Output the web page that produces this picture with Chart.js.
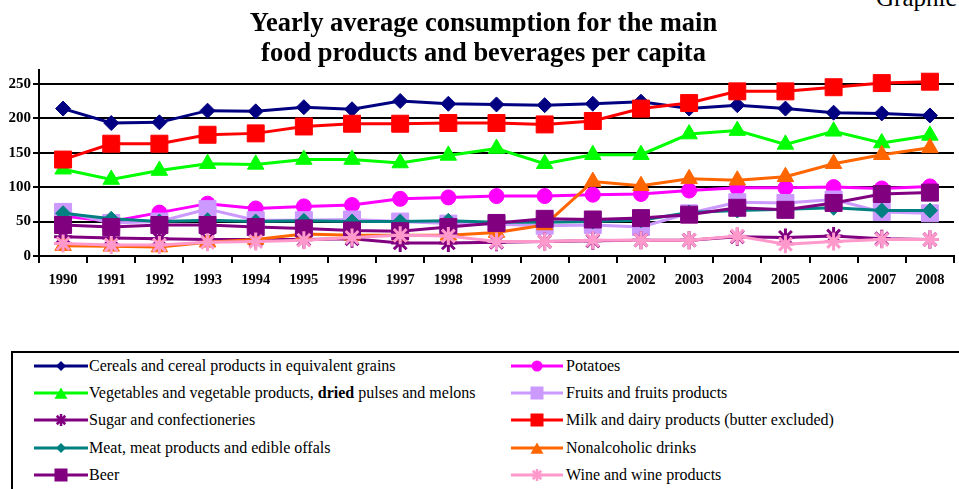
<!DOCTYPE html>
<html>
<head>
<meta charset="utf-8">
<title>Yearly average consumption per capita</title>
<script src="https://cdn.jsdelivr.net/npm/chart.js@4/dist/chart.umd.min.js"></script>
<style>
   html, body { margin: 0; padding: 0; background: #fff; }
   body {
      width: 959px;
      height: 489px;
      overflow: hidden;
      position: relative;
      font-family: "Liberation Serif", "Times New Roman", serif;
      color: #000;
   }
   #chartBox { position: absolute; left: 0; top: 0; width: 967px; height: 296px; }
   #pageTag { position: absolute; left: 876px; top: -15px; font-size: 25px; line-height: 1; white-space: nowrap; }
   #legend {
      position: absolute;
      left: 11px;
      top: 351px;
      width: 1000px;
      height: 200px;
      border-left: 2px solid #000;
      border-top: 2px solid #000;
   }
   .legend-item { position: absolute; height: 20px; line-height: 20px; font-size: 16px; white-space: nowrap; }
   .legend-item canvas { position: absolute; left: 0; top: 0; }
   .legend-item span { position: absolute; left: 55px; top: 0; }
</style>
</head>
<body>
<div id="pageTag">Graphic</div>
<div id="chartBox"><canvas id="consumptionChart" width="967" height="296"></canvas></div>
<div id="legend"></div>

<script>
const years = ["1990", "1991", "1992", "1993", "1994", "1995", "1996", "1997", "1998", "1999",
   "2000", "2001", "2002", "2003", "2004", "2005", "2006", "2007", "2008"];
const yTicks = [0, 50, 100, 150, 200, 250];
const titleLines = ["Yearly average consumption for the main", "food products and beverages per capita"];

const seriesNames = [
   "Cereals and cereal products in equivalent grains",
   "Potatoes",
   "Vegetables and vegetable products, <b>dried</b> pulses and melons",
   "Fruits and fruits products",
   "Sugar and confectioneries",
   "Milk and dairy products (butter excluded)",
   "Meat, meat products and edible offals",
   "Nonalcoholic drinks",
   "Beer",
   "Wine and wine products"
];

const cereals      = [214, 193, 194, 211, 210, 216, 213, 225, 221, 220, 219, 221, 224, 214, 219, 214, 208, 207, 204];
const potatoes     = [58, 50, 63, 76, 69, 72, 74, 83, 85, 87, 87, 89, 90, 95, 99, 99, 100, 98, 101];
const vegetables   = [126, 111, 124, 134, 133, 140, 140, 135, 146, 156, 134, 147, 147, 177, 182, 162, 181, 164, 175];
const fruits       = [64, 48, 50, 68, 52, 52, 53, 50, 47, 46, 44, 45, 42, 62, 78, 77, 82, 64, 62];
const sugar        = [28, 26, 25, 24, 24, 24, 25, 19, 19, 20, 21, 22, 23, 23, 28, 27, 29, 25, 24];
const milk         = [140, 163, 163, 176, 178, 188, 192, 192, 193, 193, 191, 196, 214, 222, 239, 239, 245, 251, 253];
const meat         = [62, 54, 50, 52, 50, 51, 50, 50, 51, 49, 49, 50, 52, 63, 66, 68, 70, 66, 66];
const nonalcoholic = [15, 14, 13, 20, 24, 32, 30, 30, 30, 34, 45, 108, 102, 112, 110, 115, 134, 147, 157];
const beer         = [45, 42, 45, 45, 42, 40, 37, 36, 42, 48, 54, 53, 55, 60, 70, 67, 77, 90, 92];
const wine         = [18, 16, 16, 20, 21, 23, 27, 30, 29, 21, 21, 23, 23, 23, 29, 17, 21, 24, 24];

const seriesValues = [cereals, potatoes, vegetables, fruits, sugar, milk, meat, nonalcoholic, beer, wine];

// marker look per series (same order as seriesNames)
const seriesStyles = [
   { color: "#000080", marker: "rectRot", radius: 7.5, legendSize: 5 },
   { color: "#FF00FF", marker: "circle", radius: 7.5, legendSize: 5.5 },
   { color: "#00FF00", marker: "triangle", radius: 9.5, legendSize: 7.5 },
   { color: "#CC99FF", marker: "rect", radius: 12, legendSize: 6.5 },
   { color: "#800080", marker: "star", radius: 9, legendSize: 6 },
   { color: "#FF0000", marker: "rect", radius: 12, legendSize: 6.5 },
   { color: "#008080", marker: "rectRot", radius: 7.5, legendSize: 5 },
   { color: "#FF6600", marker: "triangle", radius: 9.5, legendSize: 7.5 },
   { color: "#800080", marker: "rect", radius: 12, legendSize: 6.5 },
   { color: "#FF99CC", marker: "star", radius: 9, legendSize: 6 }
];

const FONT_FAMILY = '"Liberation Serif", "Times New Roman", serif';

document.addEventListener("DOMContentLoaded", () => {
   renderChart();
   renderLegend();
});

function renderChart() {
   const canvas = document.getElementById("consumptionChart");
   if (!canvas || typeof Chart === "undefined") return;

   const datasets = seriesValues.map((values, i) => {
      const style = seriesStyles[i];
      const isStar = style.marker === "star";
      return {
         label: seriesNames[i].replace(/<[^>]+>/g, ""),
         data: values,
         borderColor: style.color,
         backgroundColor: style.color,
         borderWidth: 3,
         tension: 0,
         pointStyle: style.marker,
         pointRadius: style.radius,
         pointHoverRadius: style.radius,
         pointBackgroundColor: style.color,
         pointBorderColor: style.color,
         pointBorderWidth: isStar ? 3 : 1,
         order: seriesValues.length - i
      };
   });

   new Chart(canvas, {
      type: "line",
      data: {
         labels: years,
         datasets
      },
      options: {
         responsive: false,
         animation: false,
         layout: { padding: 0 },
         plugins: {
            legend: { display: false },
            tooltip: { enabled: false },
            title: {
               display: true,
               text: titleLines,
               color: "#000",
               font: { family: FONT_FAMILY, size: 26.5, weight: "bold", lineHeight: "30px" },
               padding: { top: 9, bottom: 1 }
            }
         },
         scales: {
            x: {
               type: "category",
               offset: true,
               grid: {
                  offset: true,
                  drawOnChartArea: false,
                  drawTicks: true,
                  tickLength: 7,
                  color: "#000",
                  lineWidth: 2
               },
               border: { display: true, color: "#000", width: 2 },
               ticks: {
                  color: "#000",
                  autoSkip: false,
                  maxRotation: 0,
                  padding: 9,
                  font: { family: FONT_FAMILY, size: 14.5, weight: "bold" }
               },
               afterFit(scale) {
                  scale.height = 40;
               }
            },
            y: {
               min: 0,
               max: 270,
               afterBuildTicks(scale) {
                  scale.ticks = yTicks.map((value) => ({ value }));
               },
               grid: {
                  color: "#000",
                  lineWidth: 2,
                  drawTicks: true,
                  tickLength: 6
               },
               border: { display: true, color: "#000", width: 2 },
               ticks: {
                  color: "#000",
                  padding: 2,
                  font: { family: FONT_FAMILY, size: 15, weight: "bold" }
               },
               afterFit(scale) {
                  scale.width = 39;
               }
            }
         }
      }
   });
}

function renderLegend() {
   const legend = document.getElementById("legend");
   if (!legend) return;

   const columns = [
      { left: 21, sampleWidth: 54 },
      { left: 498, sampleWidth: 52 }
   ];
   const firstRowLine = 13.2;
   const rowStep = 27.1;

   seriesNames.forEach((name, i) => {
      const column = columns[i % 2];
      const row = Math.floor(i / 2);
      const style = seriesStyles[i];

      const item = document.createElement("div");
      item.className = "legend-item";
      item.style.left = column.left + "px";
      item.style.top = (firstRowLine + row * rowStep - 10) + "px";

      const sample = document.createElement("canvas");
      sample.width = column.sampleWidth;
      sample.height = 20;
      drawLegendSample(sample, style);

      const text = document.createElement("span");
      text.innerHTML = name;

      item.appendChild(sample);
      item.appendChild(text);
      legend.appendChild(item);
   });
}

function drawLegendSample(canvas, style) {
   const ctx = canvas.getContext("2d");
   const midX = canvas.width / 2;
   const midY = 10;
   const s = style.legendSize;

   ctx.strokeStyle = style.color;
   ctx.fillStyle = style.color;
   ctx.lineWidth = 3;
   ctx.beginPath();
   ctx.moveTo(0, midY);
   ctx.lineTo(canvas.width, midY);
   ctx.stroke();

   ctx.beginPath();
   switch (style.marker) {
      case "circle":
         ctx.arc(midX, midY, s, 0, Math.PI * 2);
         ctx.fill();
         break;
      case "rect":
         ctx.fillRect(midX - s, midY - s, s * 2, s * 2);
         break;
      case "rectRot":
         ctx.moveTo(midX, midY - s);
         ctx.lineTo(midX + s, midY);
         ctx.lineTo(midX, midY + s);
         ctx.lineTo(midX - s, midY);
         ctx.closePath();
         ctx.fill();
         break;
      case "triangle": {
         const cy = midY + s / 4;
         ctx.moveTo(midX, cy - s);
         ctx.lineTo(midX + s * 0.866, cy + s / 2);
         ctx.lineTo(midX - s * 0.866, cy + s / 2);
         ctx.closePath();
         ctx.fill();
         break;
      }
      case "star":
         ctx.lineWidth = 2.5;
         [0, 45, 90, 135].forEach((deg) => {
            const a = deg * Math.PI / 180;
            ctx.moveTo(midX + Math.cos(a) * s, midY + Math.sin(a) * s);
            ctx.lineTo(midX - Math.cos(a) * s, midY - Math.sin(a) * s);
         });
         ctx.stroke();
         break;
   }
}
</script>
</body>
</html>
